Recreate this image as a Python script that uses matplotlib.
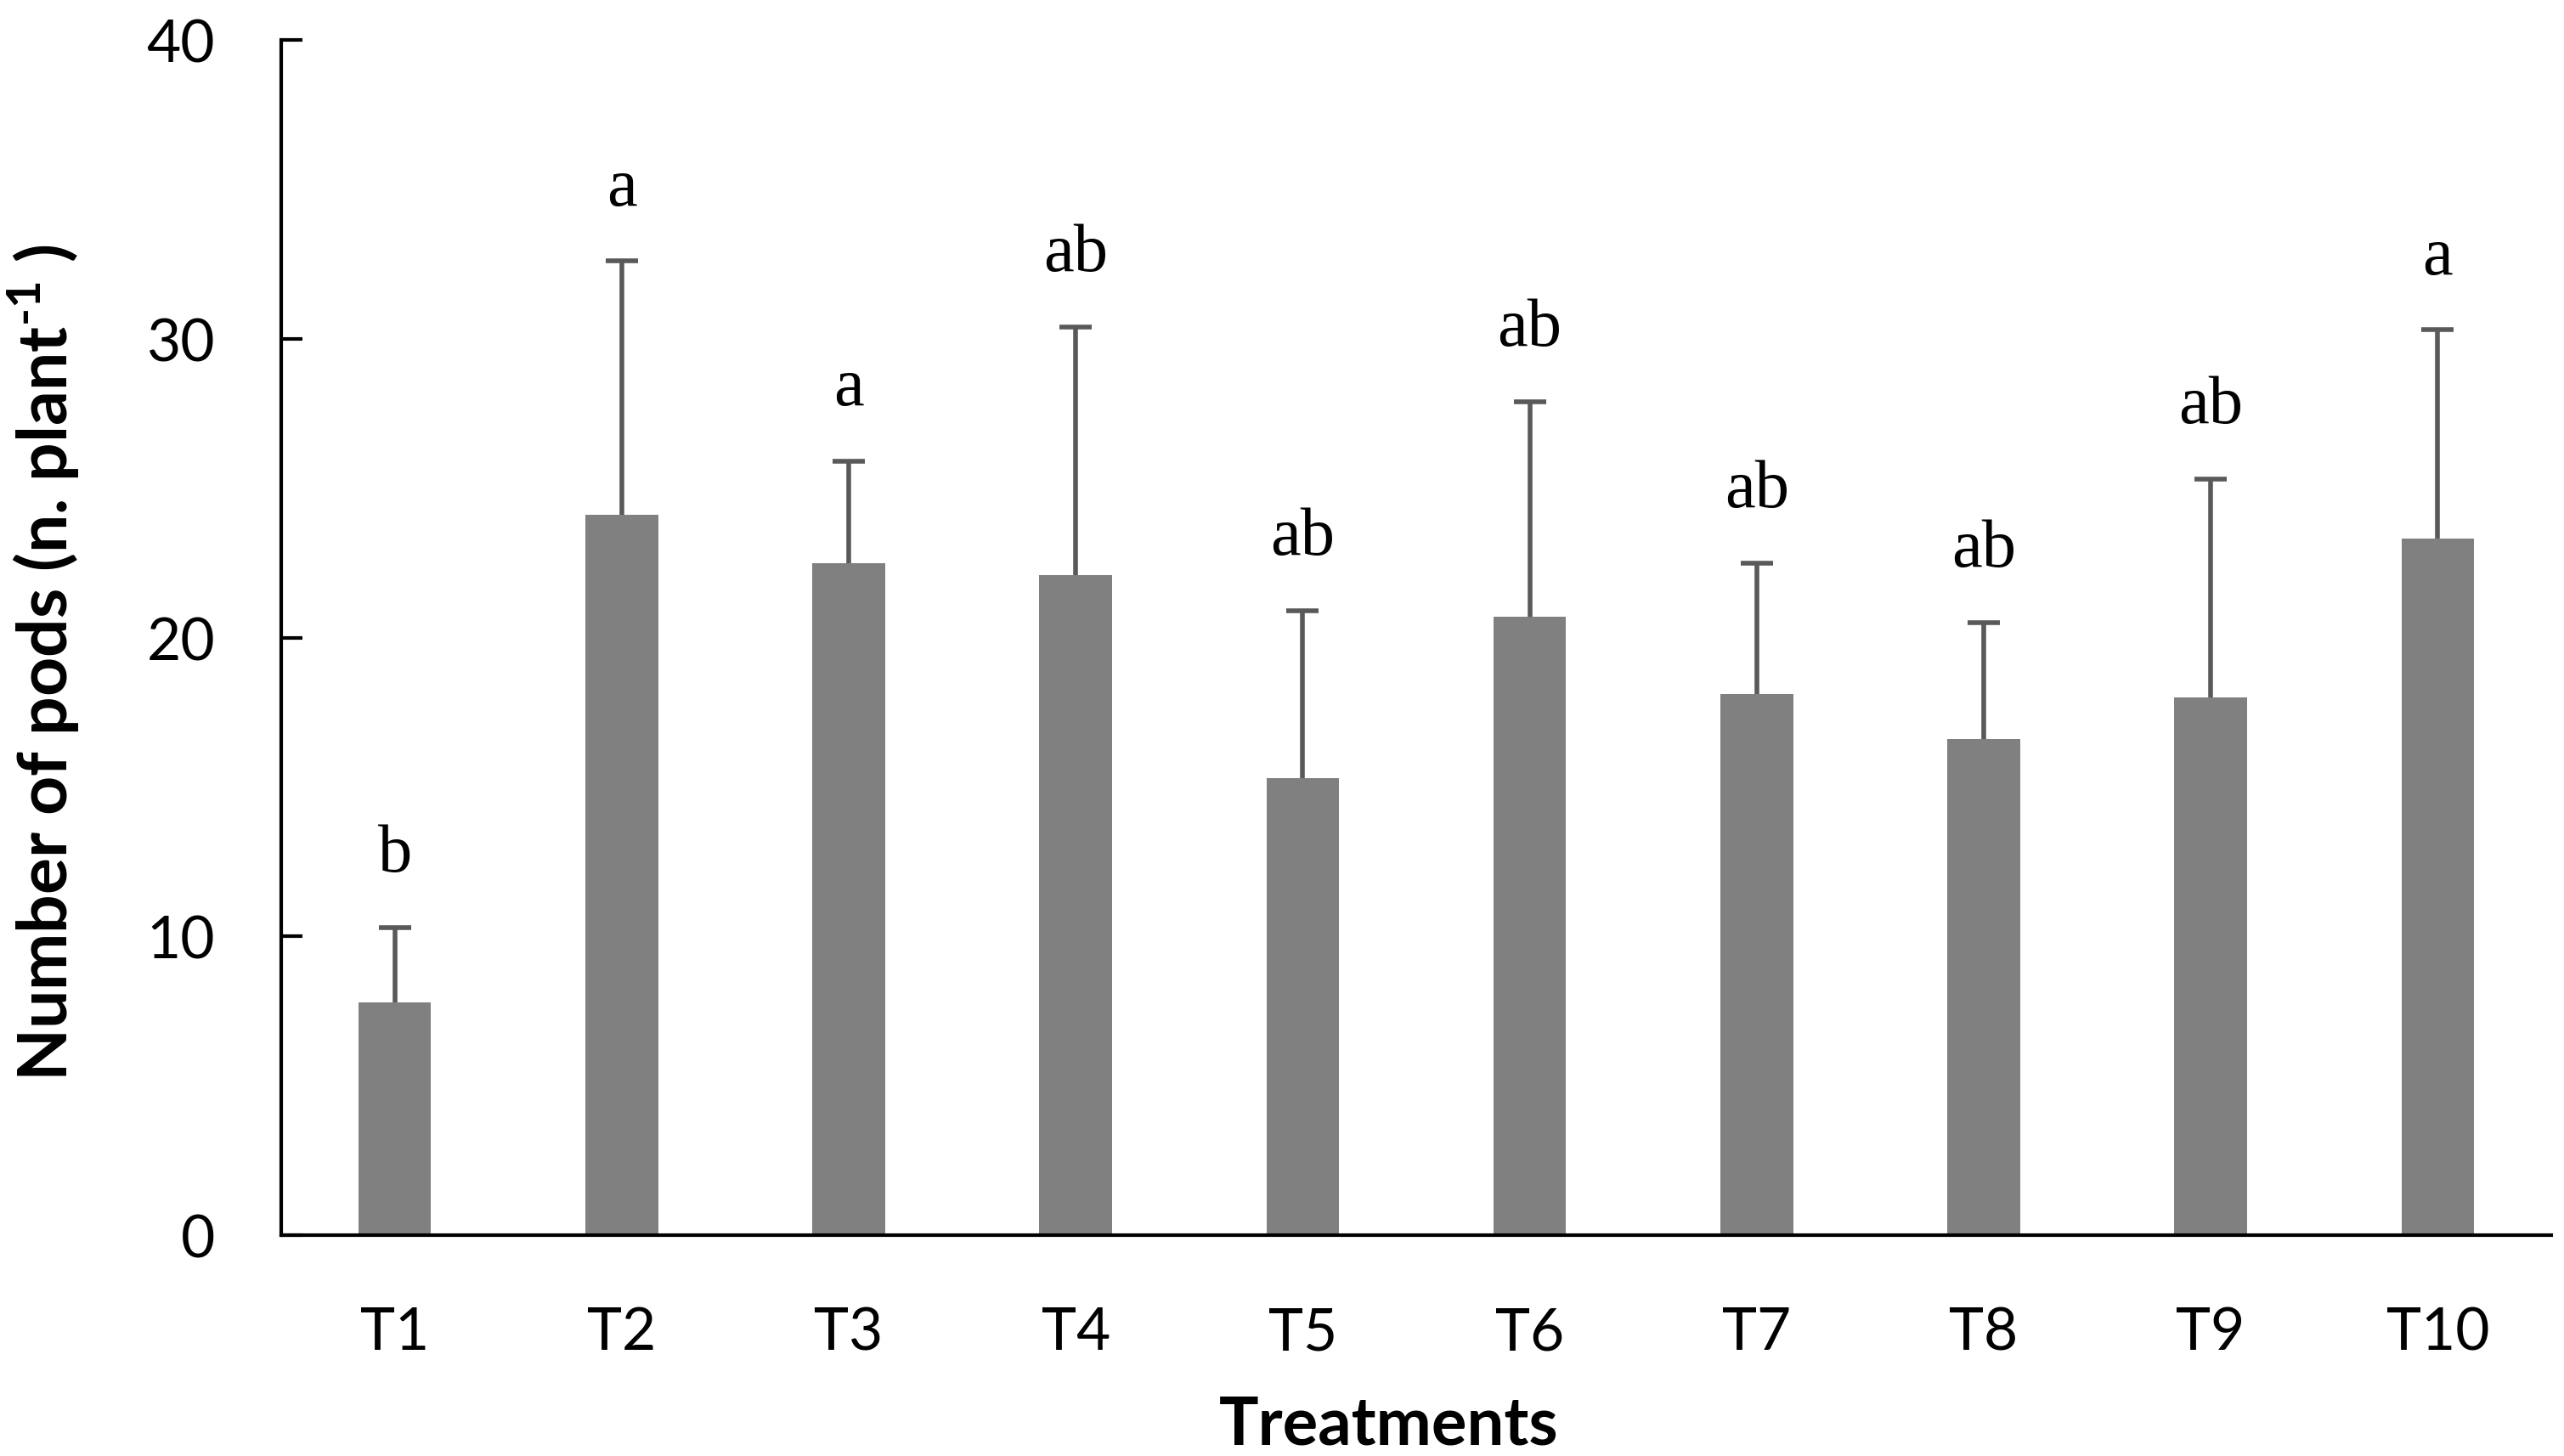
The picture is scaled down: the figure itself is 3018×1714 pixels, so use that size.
import matplotlib.pyplot as plt
import numpy as np

# data
treatments = ['T1', 'T2', 'T3', 'T4', 'T5', 'T6', 'T7', 'T8', 'T9', 'T10']
pods_mean = [7.8, 24.1, 22.5, 22.1, 15.3, 20.7, 18.1, 16.6, 18.0, 23.3]
pods_sd = [2.5, 8.5, 3.4, 8.3, 5.6, 7.2, 4.4, 3.9, 7.3, 7.0]
letters = ['b', 'a', 'a', 'ab', 'ab', 'ab', 'ab', 'ab', 'ab', 'a']

plt.rcParams['font.family'] = ['Lato', 'DejaVu Sans']

fig = plt.figure(figsize=(15.09, 8.575), dpi=200)
ax = fig.add_axes([0.1097, 0.1516, 0.8853, 0.8204])

x = np.arange(len(treatments))
ax.bar(x, pods_mean, width=0.32, color='#808080', zorder=2)
eb = ax.errorbar(x, pods_mean, yerr=[np.zeros(len(x)), pods_sd], fmt='none',
                 ecolor='#595959', elinewidth=2.0, capsize=6.8, capthick=2.0,
                 zorder=1)
# only the upper cap is shown
eb[1][0].set_visible(False)

# significance letters above the error bars
for xi, m, s, lab in zip(x, pods_mean, pods_sd, letters):
    ax.annotate(lab, (xi, m + s), xytext=(0, 24), textcoords='offset points',
                ha='center', va='baseline', fontsize=29,
                family='Liberation Serif')

ax.set_xlim(-0.5, 9.5)
ax.set_ylim(0, 40)
ax.set_yticks([0, 10, 20, 30, 40])
ax.set_xticks(x)
ax.set_xticklabels(treatments)

for side in ['top', 'right']:
    ax.spines[side].set_visible(False)
for side in ['left', 'bottom']:
    ax.spines[side].set_linewidth(1.5)

ax.tick_params(axis='y', direction='in', length=9, width=1.5, labelsize=25, pad=28)
ax.tick_params(axis='x', length=0, labelsize=25, pad=30)

ax.set_xlabel('Treatments', fontsize=28, fontweight='bold')
ax.xaxis.set_label_coords(0.488, -0.133)
ax.set_ylabel('Number of pods (n. plant$^{\\mathregular{\u20101}}$ )', fontsize=29,
              fontweight='bold')
ax.yaxis.set_label_coords(-0.088, 0.48)

fig.savefig('out.png', dpi=200)
